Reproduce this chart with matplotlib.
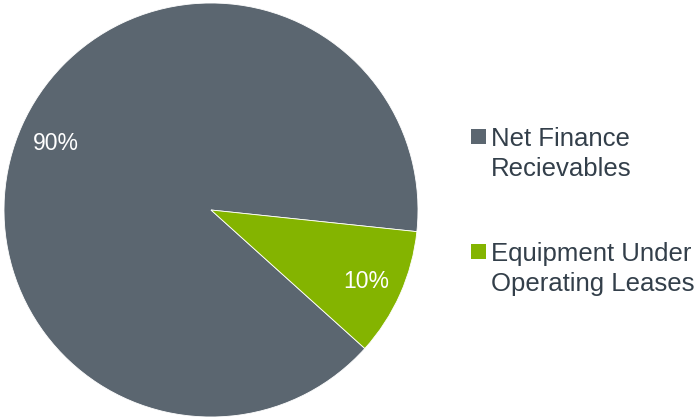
import matplotlib.pyplot as plt
from matplotlib.patches import Rectangle

plt.rcParams['font.family'] = ['Liberation Sans', 'DejaVu Sans']

labels = ['Net Finance\nRecievables', 'Equipment Under\nOperating Leases']
shares = [90, 10]
colors = ['#5b6670', '#84b400']
text_color = '#333f4a'

W, H = 700, 417
fig = plt.figure(figsize=(7, 4.17), dpi=100, facecolor='white')
ax = fig.add_axes([4/W, 0, 414/W, 414/H])

wedges, texts, autotexts = ax.pie(shares, colors=colors, startangle=318, counterclock=False,
                                  autopct='%d%%', pctdistance=0.82, radius=1,
                                  wedgeprops=dict(linewidth=0.6, edgecolor='white'),
                                  textprops=dict(color='white', fontsize=16.5,
                                                 va='center_baseline'))
ax.set_xlim(-1, 1)
ax.set_ylim(-1, 1)
ax.set_aspect('equal')
ax.axis('off')

# legend drawn by hand so the square sits beside the first line
for i, (lab, col) in enumerate(zip(labels, colors)):
    base = 144 + i * 115          # baseline of the first line, px from top
    last = base + 31.5            # baseline of the second line
    fig.add_artist(Rectangle((471/W, (H - base)/H), 14.5/W, 15/H,
                             transform=fig.transFigure, facecolor=col, edgecolor='none'))
    fig.text(491/W, (H - last)/H, lab, fontsize=18.5, color=text_color,
             va='baseline', ha='left', linespacing=1.285)

fig.savefig('out.png', dpi=100, facecolor='white')
